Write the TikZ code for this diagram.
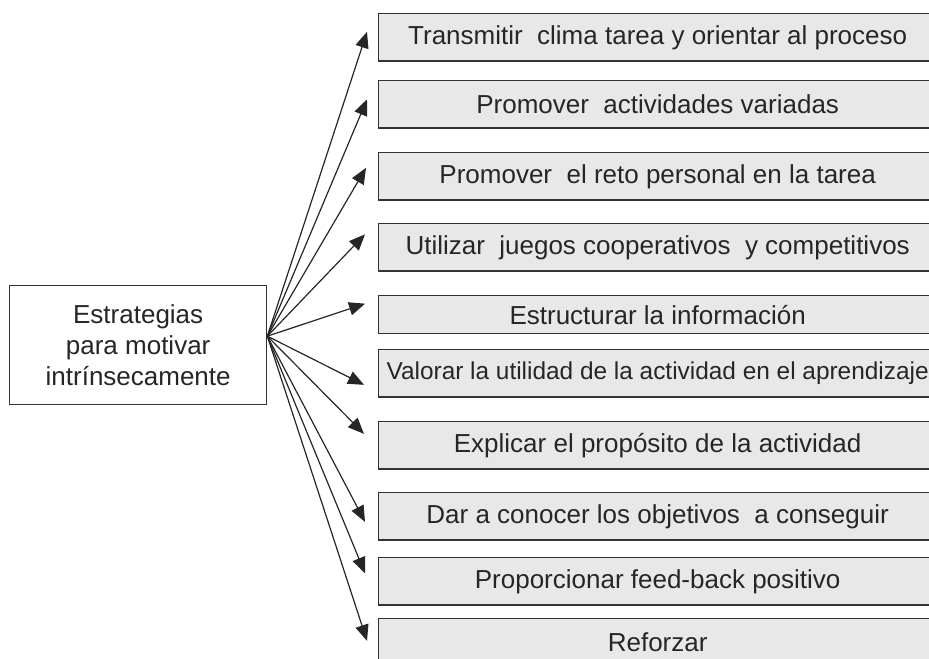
\documentclass[tikz,border=0pt]{standalone}
\usepackage{fontspec}
\setmainfont{Liberation Sans}
\usetikzlibrary{arrows.meta}

\tikzset{
  accion/.style={draw=black!80, line width=1pt, fill=black!9, text=black!85,
    minimum width=418.5pt, minimum height=35.5pt, inner sep=0pt,
    anchor=north west, font=\fontsize{19.5}{23}\selectfont},
  flecha/.style={draw=black!85, line width=0.9pt,
    -{Triangle[length=12pt, width=10pt]}}
}

\begin{document}
\begin{tikzpicture}[x=0.75pt, y=-0.75pt]
        \useasboundingbox (0,0) rectangle (929,659);
        \clip (0,0) rectangle (929,659);
        % central box
        \node[draw=black!80, line width=1pt, fill=white, text=black!85, align=center,
          minimum width=192.75pt, minimum height=89.25pt, inner sep=0pt, anchor=north west,
          font=\fontsize{19.5}{23.3}\selectfont] (estr) at (9,285)
          {Estrategias\\para motivar\\intrínsecamente};
        \coordinate (hub) at ([shift={(0,-9)}]estr.east);
        % strategies
        \node[accion] (b1) at (378,13) {Transmitir\ \ clima tarea y orientar al proceso};
        \node[accion] (b2) at (378,80) {Promover\ \ actividades variadas};
        \node[accion] (b3) at (378,152) {Promover\ \ el reto personal en la tarea};
        \node[accion] (b4) at (378,223) {Utilizar\ \ juegos cooperativos\ \ y competitivos};
        \node[accion, minimum height=28.5pt] (b5) at (378,295) {Estructurar la información};
        \node[accion, font=\fontsize{18.3}{21}\selectfont] (b6) at (378,349) {Valorar la utilidad de la actividad en el aprendizaje};
        \node[accion] (b7) at (378,421) {Explicar el propósito de la actividad};
        \node[accion] (b8) at (378,492) {Dar a conocer los objetivos\ \ a conseguir};
        \node[accion] (b9) at (378,557) {Proporcionar feed-back positivo};
        \node[accion] (b10) at (378,618) {Reforzar};
        % arrows
        \draw[flecha] (hub) -- ([shift={(-11,-5.5)}]b1.west);
        \draw[flecha] (hub) -- ([shift={(-11,-5)}]b2.west);
        \draw[flecha] (hub) -- ([shift={(-12,-8.5)}]b3.west);
        \draw[flecha] (hub) -- ([shift={(-13,-13)}]b4.west);
        \draw[flecha] (hub) -- ([shift={(-13,-11)}]b5.west);
        \draw[flecha] (hub) -- ([shift={(-14,11.5)}]b6.west);
        \draw[flecha] (hub) -- ([shift={(-14,-11.5)}]b7.west);
        \draw[flecha] (hub) -- ([shift={(-13,5.5)}]b8.west);
        \draw[flecha] (hub) -- ([shift={(-13,-8)}]b9.west);
        \draw[flecha] (hub) -- ([shift={(-11,-1.5)}]b10.west);
\end{tikzpicture}
\end{document}
